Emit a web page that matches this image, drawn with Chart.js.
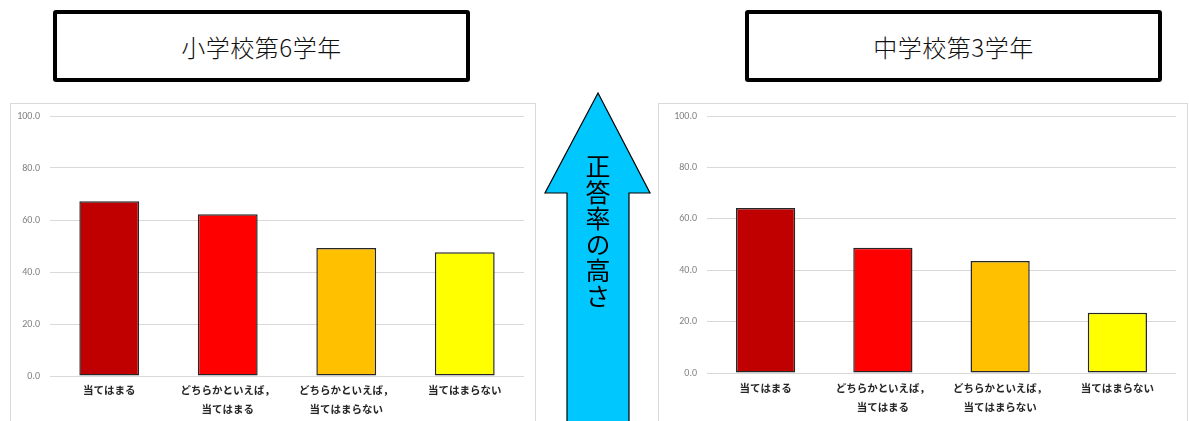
<!DOCTYPE html>
<html lang="ja">
<head>
<meta charset="utf-8">
<script src="https://cdn.jsdelivr.net/npm/chart.js@4/dist/chart.umd.min.js"></script>
<style>
  html, body { margin: 0; padding: 0; background: #fff; overflow: hidden; }
  body { width: 1189px; height: 421px; position: relative; font-family: "Noto Sans CJK JP", sans-serif; }
  .title-box {
    position: absolute; top: 10px; width: 409px; height: 64px;
    border: 4px solid #000; border-radius: 3px; background: #fff;
    display: flex; align-items: center; justify-content: center;
    font-size: 24px; color: #111; font-weight: 300; letter-spacing: 0.5px;
  }
  .panel { position: absolute; top: 103px; height: 330px; border: 1px solid #d9d9d9; background: #fff; }
  .panel canvas { position: absolute; left: 0; top: -4px; }
  .arrow-label {
    position: absolute; left: 584px; top: 154px;
    writing-mode: vertical-rl; font-size: 25px; line-height: 28px; color: #000;
    letter-spacing: 1px;
  }
</style>
</head>
<body>
<div class="title-box" style="left:53px;">小学校第6学年</div>
<div class="title-box" style="left:745px;">中学校第3学年</div>

<div class="panel" style="left:10px; width:524px;"><canvas id="elemChart" width="524" height="320"></canvas></div>
<div class="panel" style="left:658px; width:528px;"><canvas id="jhsChart" width="528" height="320"></canvas></div>

<svg style="position:absolute; left:0; top:0;" width="1189" height="421">
  <polygon points="598,93 650,193 629,193 629,425 567,425 567,193 545,193"
           fill="#00c8ff" stroke="#000" stroke-width="1.2"/>
</svg>
<div class="arrow-label">正答率の高さ</div>

<script>
// 回答カテゴリ（2行に分けて表示）
const categories = [
  ['当てはまる'],
  ['どちらかといえば，', '当てはまる'],
  ['どちらかといえば，', '当てはまらない'],
  ['当てはまらない']
];
// 正答率（%）
const elemRates = [67.2, 62.2, 49.2, 47.6];
const jhsRates = [64.2, 48.7, 43.6, 23.4];
const barColors = ['#c00000', '#ff0000', '#ffc000', '#ffff00'];
const yTicks = [0, 20, 40, 60, 80, 100];

function makeChart(id, values, yWidth, xHeight, labelPad) {
  const ctx = document.getElementById(id).getContext('2d');
  return new Chart(ctx, {
    type: 'bar',
    data: {
      labels: categories,
      datasets: [{
        data: values,
        backgroundColor: barColors,
        borderColor: '#262626',
        borderWidth: 1.5,
        borderSkipped: false,
        categoryPercentage: 1,
        barPercentage: 0.505
      }]
    },
    options: {
      responsive: false,
      animation: false,
      layout: { padding: { top: 0, right: 11, left: 0, bottom: 0 } },
      plugins: { legend: { display: false }, tooltip: { enabled: false } },
      scales: {
        x: {
          grid: { display: false },
          border: { display: false },
          ticks: {
            autoSkip: false, maxRotation: 0, padding: labelPad,
            color: '#262626', font: { family: '"Noto Sans CJK JP"', size: 10.5, weight: 'bold', lineHeight: 1.75 }
          },
          afterFit: s => { s.height = xHeight; }
        },
        y: {
          min: 0, max: 100,
          afterBuildTicks: s => { s.ticks = yTicks.map(v => ({ value: v })); },
          grid: { color: '#d9d9d9', lineWidth: 1, drawTicks: false },
          border: { display: false },
          ticks: {
            padding: 10, color: '#808080',
            font: { family: 'Calibri, "Liberation Sans", sans-serif', size: 10 },
            callback: v => v.toFixed(1)
          },
          afterFit: s => { s.width = yWidth; }
        }
      }
    }
  });
}

makeChart('elemChart', elemRates, 39, 44, -3);
makeChart('jhsChart', jhsRates, 48, 47, -2);
</script>
</body>
</html>
